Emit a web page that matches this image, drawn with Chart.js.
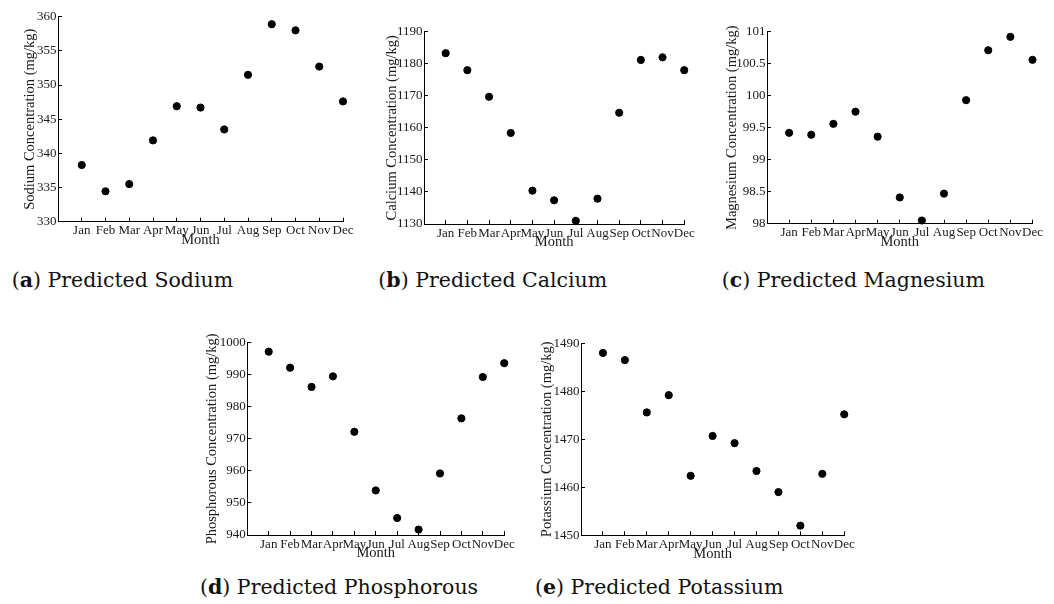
<!DOCTYPE html>
<html>
<head>
<meta charset="utf-8">
<script src="https://cdn.jsdelivr.net/npm/chart.js"></script>
<style>
  body { margin: 0; background: #fff; width: 1054px; height: 604px; position: relative; overflow: hidden; }
  .panel { position: absolute; }
  .cap { position: absolute; font-family: "DejaVu Serif", serif; font-size: 20.5px; line-height: 24px; color: #111; white-space: nowrap; }
</style>
</head>
<body>

<script>
// monthly predictions
const months = ['Jan', 'Feb', 'Mar', 'Apr', 'May', 'Jun', 'Jul', 'Aug', 'Sep', 'Oct', 'Nov', 'Dec'];
const sodium = [338.3, 334.45, 335.5, 341.9, 346.9, 346.7, 343.5, 351.5, 358.9, 358.0, 352.7, 347.6];
const calcium = [1183.3, 1178.0, 1169.7, 1158.4, 1140.4, 1137.4, 1131.0, 1137.9, 1164.7, 1181.2, 1182.0, 1178.0];
const magnesium = [99.42, 99.39, 99.56, 99.75, 99.36, 98.41, 98.05, 98.47, 99.93, 100.71, 100.92, 100.56];
const phosphorous = [997.2, 992.2, 986.2, 989.5, 972.2, 953.9, 945.3, 941.7, 959.2, 976.4, 989.3, 993.6];
const potassium = [1488.0, 1486.5, 1475.6, 1479.2, 1462.4, 1470.7, 1469.2, 1463.4, 1459.0, 1452.0, 1462.8, 1475.2];

const sodiumTicks = [330, 335, 340, 345, 350, 355, 360];
const calciumTicks = [1130, 1140, 1150, 1160, 1170, 1180, 1190];
const magnesiumTicks = [98, 98.5, 99, 99.5, 100, 100.5, 101];
const phosphorousTicks = [940, 950, 960, 970, 980, 990, 1000];
const potassiumTicks = [1450, 1460, 1470, 1480, 1490];

// box = canvas [left, top, width, height]; area = plot [left, top, right, bottom]
const panels = [
  { tag: 'a', name: 'Sodium', values: sodium, ticks: sodiumTicks, box: [0, 0, 360, 250], area: [58, 16.7, 343, 221.7], titleX: 30, cap: [11.7, 268] },
  { tag: 'b', name: 'Calcium', values: calcium, ticks: calciumTicks, box: [360, 0, 340, 252], area: [424, 31.7, 690, 224], titleX: 391.7, cap: [378.3, 268] },
  { tag: 'c', name: 'Magnesium', values: magnesium, ticks: magnesiumTicks, box: [700, 0, 354, 252], area: [767, 31.7, 1032.5, 223.7], titleX: 731.7, cap: [721.7, 268] },
  { tag: 'd', name: 'Phosphorous', values: phosphorous, ticks: phosphorousTicks, box: [180, 300, 340, 264], area: [247.3, 342.7, 511.7, 535], titleX: 211.7, cap: [200, 574.5] },
  { tag: 'e', name: 'Potassium', values: potassium, ticks: potassiumTicks, box: [520, 300, 340, 264], area: [581, 343.3, 845.7, 535.3], titleX: 546.7, cap: [535, 574.5] }
];

const tickFont = { family: 'Liberation Serif', size: 13 };
const titleFont = { family: 'Liberation Serif', size: 14.5 };
const ink = '#1a1a1a';

panels.forEach(p => {
  const [bx, by, bw, bh] = p.box;
  const [L, T, R, B] = p.area;

  const div = document.createElement('div');
  div.className = 'panel';
  div.style.left = bx + 'px';
  div.style.top = by + 'px';
  div.style.width = bw + 'px';
  div.style.height = bh + 'px';
  const cv = document.createElement('canvas');
  div.appendChild(cv);
  document.body.appendChild(div);

  const cap = document.createElement('div');
  cap.className = 'cap';
  cap.style.left = p.cap[0] + 'px';
  cap.style.top = p.cap[1] + 'px';
  cap.innerHTML = '(<b>' + p.tag + '</b>) Predicted ' + p.name;
  document.body.appendChild(cap);

  const xHeight = by + bh - B;
  const lh = titleFont.size * 1.2;
  const tlh = tickFont.size * 1.2;

  new Chart(cv, {
    type: 'scatter',
    data: {
      datasets: [{
        data: p.values.map((v, i) => ({ x: i + 1, y: v })),
        backgroundColor: '#000',
        borderColor: '#000',
        pointRadius: 3.6,
        pointHoverRadius: 3.6,
        clip: false
      }]
    },
    options: {
      responsive: true,
      maintainAspectRatio: false,
      animation: false,
      layout: { padding: { left: 0, top: T - by, right: bx + bw - R, bottom: 0 } },
      plugins: { legend: { display: false }, tooltip: { enabled: false } },
      scales: {
        x: {
          type: 'linear',
          min: 0,
          max: 12,
          afterBuildTicks: s => { s.ticks = months.map((m, i) => ({ value: i + 1 })); },
          afterFit: s => { s.height = xHeight; },
          ticks: { callback: v => months[v - 1], font: tickFont, color: ink, padding: 4 + 9.1 - tlh / 2, maxRotation: 0, autoSkip: false },
          grid: { drawOnChartArea: false, tickLength: -4, color: '#000' },
          border: { color: '#000', width: 1 },
          title: { display: true, text: 'Month', font: titleFont, color: ink, padding: { top: 0, bottom: xHeight - lh / 2 - 18.5 } }
        },
        y: {
          min: p.ticks[0],
          max: p.ticks[p.ticks.length - 1],
          afterBuildTicks: s => { s.ticks = p.ticks.map(v => ({ value: v })); },
          afterFit: s => { s.width = L - bx; },
          ticks: { callback: v => String(v), font: tickFont, color: ink, padding: 5.5, autoSkip: false },
          grid: { drawOnChartArea: false, tickLength: -4, color: '#000' },
          border: { color: '#000', width: 1 },
          title: { display: true, text: p.name + ' Concentration (mg/kg)', font: titleFont, color: ink, padding: { top: p.titleX - bx - lh / 2, bottom: 0 } }
        }
      }
    }
  });
});
</script>
</body>
</html>
